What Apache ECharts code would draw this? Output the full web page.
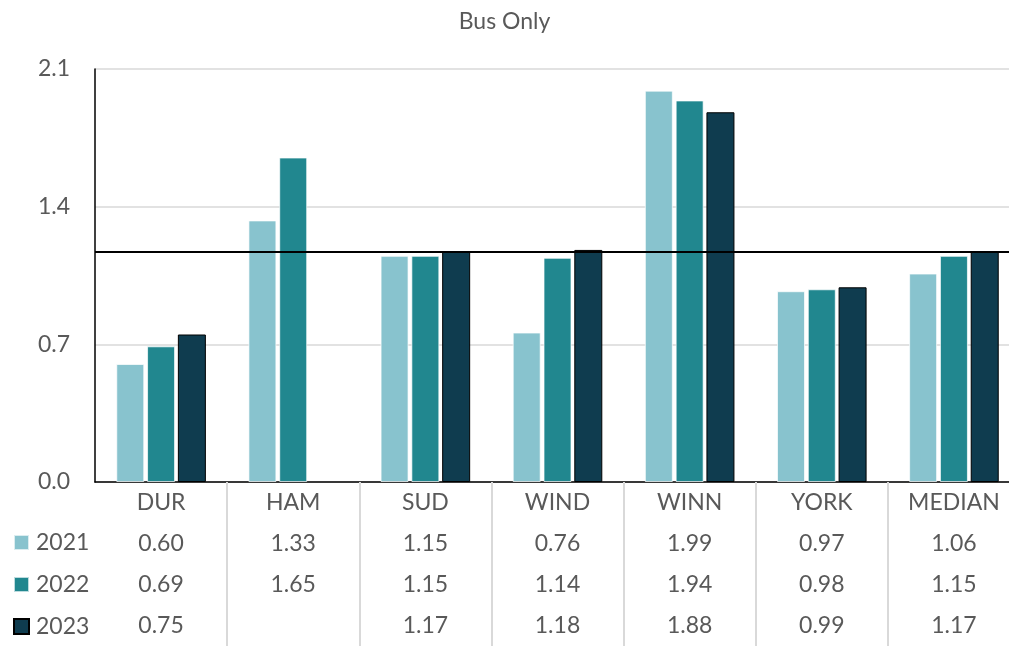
<!DOCTYPE html>
<html>
<head>
<meta charset="utf-8">
<script src="https://cdn.jsdelivr.net/npm/echarts@6/dist/echarts.min.js"></script>
<style>
  html, body { margin: 0; padding: 0; background: #fff; }
  #chart { width: 1009px; height: 646px; }
</style>
</head>
<body>
<div id="chart"></div>
<script>
// Ratio by agency, bus service only
const categories = ['DUR', 'HAM', 'SUD', 'WIND', 'WINN', 'YORK', 'MEDIAN'];
const years = ['2021', '2022', '2023'];
const values2021 = [0.60, 1.33, 1.15, 0.76, 1.99, 0.97, 1.06];
const values2022 = [0.69, 1.65, 1.15, 1.14, 1.94, 0.98, 1.15];
const values2023 = [0.75, null, 1.17, 1.18, 1.88, 0.99, 1.17];
const referenceLevel = 1.17;
const yTicks = { min: 0, max: 2.1, interval: 0.7 };

const seriesValues = [values2021, values2022, values2023];
const colors = ['#88C3CE', '#21878F', '#0F3C4F'];
const textColor = '#595959';
const font = 'Lato, "Open Sans", sans-serif';

// Data table under the axis: category name then one value per year
function tableLabel(name, idx) {
  const lines = [name];
  seriesValues.forEach(function (vals) {
    const v = vals[idx];
    lines.push(v == null ? ' ' : v.toFixed(2));
  });
  return lines.join('\n');
}

const chart = echarts.init(document.getElementById('chart'), null, { renderer: 'canvas' });

const series = years.map(function (year, i) {
  const s = {
    name: year,
    type: 'bar',
    data: seriesValues[i],
    barWidth: 28,
    barGap: '10%',
    itemStyle: {
      color: colors[i],
      borderColor: i === 2 ? '#000000' : 'rgba(255,255,255,0.7)',
      borderWidth: 1
    },
    emphasis: { disabled: true }
  };
  if (i === 2) {
    s.markLine = {
      silent: true,
      symbol: 'none',
      label: { show: false },
      lineStyle: { color: '#000000', width: 2, type: 'solid' },
      data: [{ yAxis: referenceLevel }]
    };
  }
  return s;
});

chart.setOption({
  animation: false,
  textStyle: { fontFamily: font },
  title: {
    text: 'Bus Only',
    left: 'center',
    top: 5,
    textStyle: { fontFamily: font, fontSize: 23, fontWeight: 'normal', color: textColor }
  },
  legend: {
    orient: 'vertical',
    left: 13,
    top: 531,
    padding: 0,
    itemWidth: 15,
    itemHeight: 15,
    itemGap: 19,
    icon: 'rect',
    selectedMode: false,
    data: years,
    textStyle: { fontFamily: font, fontSize: 23, color: textColor, lineHeight: 20, padding: [0, 0, 0, 2] }
  },
  grid: {
    left: 95,
    right: -11,
    top: 69,
    bottom: 164,
    containLabel: false,
    outerBoundsMode: 'none'
  },
  xAxis: {
    type: 'category',
    data: categories,
    boundaryGap: true,
    axisLine: { show: true, lineStyle: { color: '#000000', width: 1.5 } },
    axisTick: {
      show: true,
      length: 164,
      interval: function (index) { return index > 0; },
      lineStyle: { color: '#D9D9D9', width: 2 }
    },
    axisLabel: {
      interval: 0,
      margin: 0,
      fontFamily: font,
      fontSize: 23,
      lineHeight: 41,
      color: textColor,
      formatter: function (value, idx) { return tableLabel(value, idx); }
    },
    splitLine: { show: false }
  },
  yAxis: {
    type: 'value',
    min: yTicks.min,
    max: yTicks.max,
    interval: yTicks.interval,
    axisLine: { show: true, lineStyle: { color: '#000000', width: 1.5 } },
    axisTick: { show: false },
    axisLabel: {
      margin: 25,
      fontFamily: font,
      fontSize: 23,
      color: textColor,
      formatter: function (v) { return v.toFixed(1); }
    },
    splitLine: { show: true, lineStyle: { color: '#D9D9D9', width: 1.5 } }
  },
  series: series
});
</script>
</body>
</html>
